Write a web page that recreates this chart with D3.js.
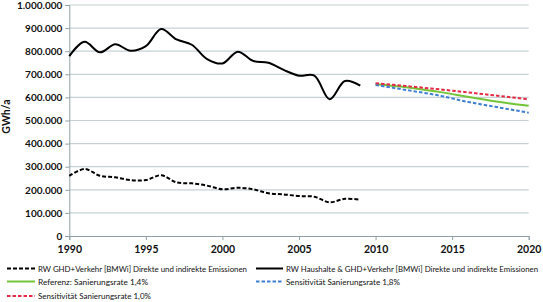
<!DOCTYPE html>
<html lang="de">
<head>
<meta charset="UTF-8">
<title>GWh/a</title>
<script src="https://d3js.org/d3.v7.min.js"></script>
<style>
  body { margin: 0; background: #fff; }
  text { font-family: Lato, "Open Sans", sans-serif; }
</style>
</head>
<body>
<script>
// historische Werte
var years = d3.range(1990, 2010);
var haushalteGhd = [779, 841, 795, 830, 802, 822, 896, 851, 828, 766,
                    747, 798, 758, 750, 719, 694, 694, 592, 671, 651];
var ghdVerkehr = [260, 290, 261, 254, 242, 242, 263, 232, 228, 218,
                  202, 209, 202, 185, 180, 173, 170, 146, 161, 157];

// Szenarien
var projYears = [2010, 2012, 2014, 2016, 2018, 2020];
var referenz = [657, 644, 625, 603, 581, 564];
var sens18 = [654, 632, 610, 581, 557, 534];
var sens10 = [661, 649, 636, 622, 607, 592];

var yTicks = [0, 100, 200, 300, 400, 500, 600, 700, 800, 900, 1000];
var xTicks = [1990, 1995, 2000, 2005, 2010, 2015, 2020];

var W = 543, H = 302;
var svg = d3.select("body").append("svg")
    .attr("width", W).attr("height", H);

var x = d3.scaleLinear().domain([1990, 2020]).range([69.3, 528.7]);
var y = d3.scaleLinear().domain([0, 1000]).range([236, 5]);

var fmt = function (v) {
    return v === 0 ? "0" : d3.format(",")(v * 1000).replace(/,/g, ".");
};

// Gitternetz
svg.append("g").selectAll("line")
    .data(yTicks.filter(d => d > 0))
    .enter().append("line")
    .attr("x1", x(1990)).attr("x2", x(2020))
    .attr("y1", d => y(d)).attr("y2", d => y(d))
    .attr("stroke", "#c5d1d4").attr("stroke-width", 1.2);

// Achsen
var yAxis = d3.axisLeft(y).tickValues(yTicks).tickFormat(fmt).tickSize(4).tickPadding(3);
var gy = svg.append("g").attr("transform", "translate(" + x(1990) + ",0)").call(yAxis);
gy.selectAll("text").attr("font-size", 10).attr("font-weight", "bold").attr("fill", "#111")
    .attr("font-family", "Lato, sans-serif");
gy.selectAll("line").attr("stroke", "#8fa0a4");
gy.select(".domain").attr("stroke", "#8fa0a4");

var xAxis = d3.axisBottom(x).tickValues(xTicks).tickFormat(d3.format("d")).tickSize(4).tickPadding(6);
var gx = svg.append("g").attr("transform", "translate(0," + y(0) + ")").call(xAxis);
gx.selectAll("text").attr("font-size", 10.5).attr("font-weight", "bold").attr("fill", "#111")
    .attr("font-family", "Lato, sans-serif");
gx.selectAll("line").attr("stroke", "#8fa0a4");
gx.select(".domain").attr("stroke", "#8fa0a4");

svg.append("text")
    .attr("transform", "translate(10," + y(517) + ") rotate(-90)")
    .attr("text-anchor", "middle")
    .attr("font-size", 10.5).attr("font-weight", "bold").attr("fill", "#111")
    .text("GWh/a");

// Linien
var smooth = d3.line().x(d => x(d[0])).y(d => y(d[1])).curve(d3.curveCatmullRom.alpha(0.5));
var mono = d3.line().x(d => x(d[0])).y(d => y(d[1])).curve(d3.curveMonotoneX);

function pairs(xs, vs) { return xs.map((v, i) => [v, vs[i]]); }

var series = [
    { name: "RW GHD+Verkehr [BMWi] Direkte und indirekte Emissionen", pts: pairs(years, ghdVerkehr), gen: smooth, color: "#000", dash: "4,2" },
    { name: "RW Haushalte & GHD+Verkehr [BMWi] Direkte und indirekte Emissionen", pts: pairs(years, haushalteGhd), gen: smooth, color: "#000", dash: null },
    { name: "Referenz: Sanierungsrate 1,4%", pts: pairs(projYears, referenz), gen: mono, color: "#74c43a", dash: null },
    { name: "Sensitivität Sanierungsrate 1,8%", pts: pairs(projYears, sens18), gen: mono, color: "#3e7fd3", dash: "3.5,2" },
    { name: "Sensitivität Sanierungsrate 1,0%", pts: pairs(projYears, sens10), gen: mono, color: "#e62a45", dash: "3.5,2" }
];

// Zeichenreihenfolge: Szenarien unter den historischen Linien
var order = [2, 3, 4, 0, 1];
order.forEach(function (i) {
    var s = series[i];
    svg.append("path")
        .datum(s.pts)
        .attr("d", s.gen)
        .attr("fill", "none")
        .attr("stroke", s.color)
        .attr("stroke-width", 2)
        .attr("stroke-dasharray", s.dash);
});

// Legende (Calibri-Breiten nachgebildet)
var legendPos = [
    { x0: 7, x1: 35, tx: 38, y: 268.5, w: 209 },
    { x0: 256, x1: 283, tx: 286, y: 268.5, w: 252 },
    { x0: 7, x1: 35, tx: 38, y: 281.5, w: 110 },
    { x0: 256, x1: 283, tx: 286, y: 281.5, w: 114 },
    { x0: 7, x1: 35, tx: 38, y: 296, w: 113 }
];
series.forEach(function (s, i) {
    var p = legendPos[i];
    var g = svg.append("g");
    g.append("line")
        .attr("x1", p.x0).attr("x2", p.x1)
        .attr("y1", p.y).attr("y2", p.y)
        .attr("stroke", s.color).attr("stroke-width", 2)
        .attr("stroke-dasharray", s.dash);
    g.append("text")
        .attr("x", p.tx).attr("y", p.y + 3)
        .attr("font-size", 7.8).attr("fill", "#111")
        .attr("textLength", p.w).attr("lengthAdjust", "spacingAndGlyphs")
        .text(s.name);
});
</script>
</body>
</html>
